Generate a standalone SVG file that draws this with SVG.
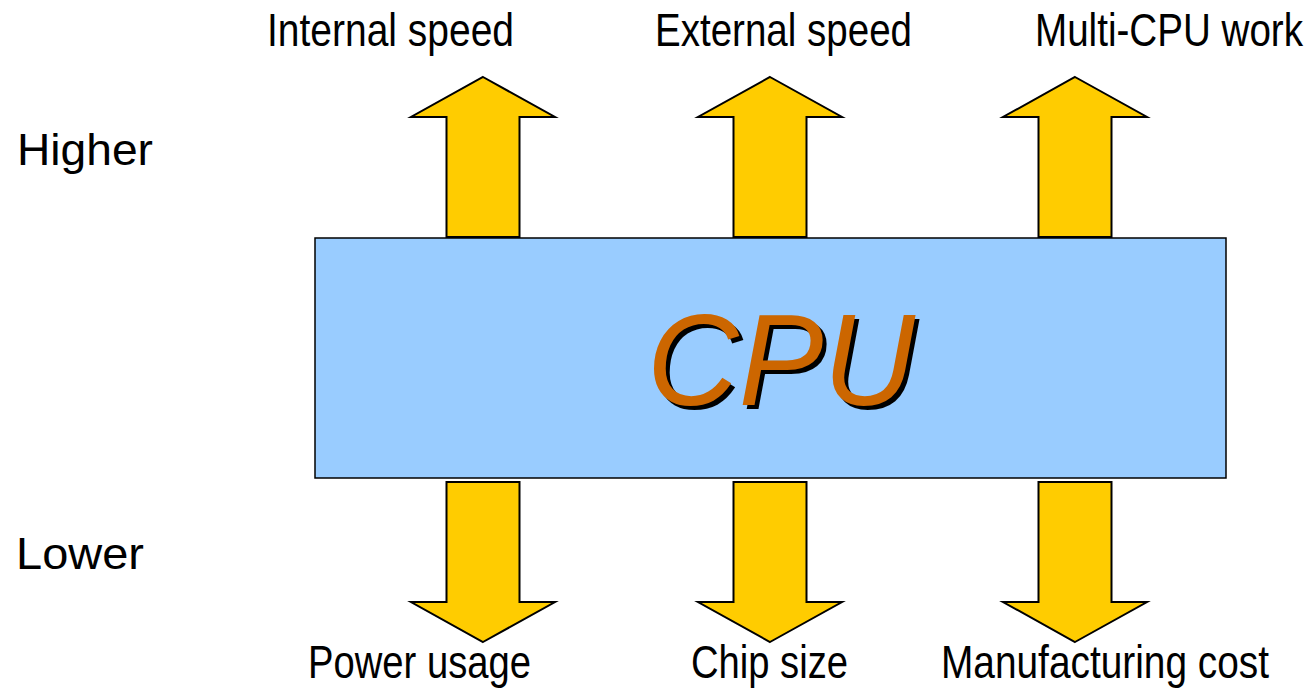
<svg xmlns="http://www.w3.org/2000/svg" width="1312" height="688" viewBox="0 0 1312 688">
<style>
.arrow{fill:#FFCC00;stroke:#000;stroke-width:2;stroke-linejoin:miter}
.lbl{font-family:"Liberation Sans",Arial,sans-serif;font-size:47px;fill:#000}
.side{font-family:"Liberation Sans",Arial,sans-serif;font-size:45px;fill:#000}
.cpu{font-family:"Liberation Sans",Arial,sans-serif;font-size:130px;font-style:italic}
</style>
<defs>
<path id="up" d="M0,-160 L72,-120 L36.5,-120 L36.5,0 L-36.5,0 L-36.5,-120 L-72,-120 Z"/>
<path id="down" d="M0,160 L72,120 L36.5,120 L36.5,0 L-36.5,0 L-36.5,120 L-72,120 Z"/>
</defs>
<rect width="1312" height="688" fill="#fff"/>
<g id="connectors">
<use href="#up" class="arrow" x="483" y="237"/>
<use href="#up" class="arrow" x="770" y="237"/>
<use href="#up" class="arrow" x="1075" y="237"/>
<use href="#down" class="arrow" x="483" y="482"/>
<use href="#down" class="arrow" x="770" y="482"/>
<use href="#down" class="arrow" x="1075" y="482"/>
</g>
<g id="cpu">
<rect x="315" y="238" width="911" height="240" fill="#99CCFF" stroke="#000" stroke-width="1.5"/>
<text class="cpu" x="651" y="409" fill="#000" textLength="268" lengthAdjust="spacingAndGlyphs">CPU</text>
<text class="cpu" x="647" y="405" fill="#CC6600" textLength="268" lengthAdjust="spacingAndGlyphs">CPU</text>
</g>
<g id="label-higher"><text class="side" x="17" y="165" textLength="136" lengthAdjust="spacingAndGlyphs">Higher</text></g>
<g id="label-lower"><text class="side" x="16" y="569" textLength="128" lengthAdjust="spacingAndGlyphs">Lower</text></g>
<g id="label-internal"><text class="lbl" x="267" y="46" textLength="247" lengthAdjust="spacingAndGlyphs">Internal speed</text></g>
<g id="label-external"><text class="lbl" x="655" y="46" textLength="257" lengthAdjust="spacingAndGlyphs">External speed</text></g>
<g id="label-multi"><text class="lbl" x="1035" y="46" textLength="268" lengthAdjust="spacingAndGlyphs">Multi-CPU work</text></g>
<g id="label-power"><text class="lbl" x="308" y="678" textLength="223" lengthAdjust="spacingAndGlyphs">Power usage</text></g>
<g id="label-chip"><text class="lbl" x="691" y="678" textLength="157" lengthAdjust="spacingAndGlyphs">Chip size</text></g>
<g id="label-manufacturing"><text class="lbl" x="941" y="678" textLength="328" lengthAdjust="spacingAndGlyphs">Manufacturing cost</text></g>
</svg>
